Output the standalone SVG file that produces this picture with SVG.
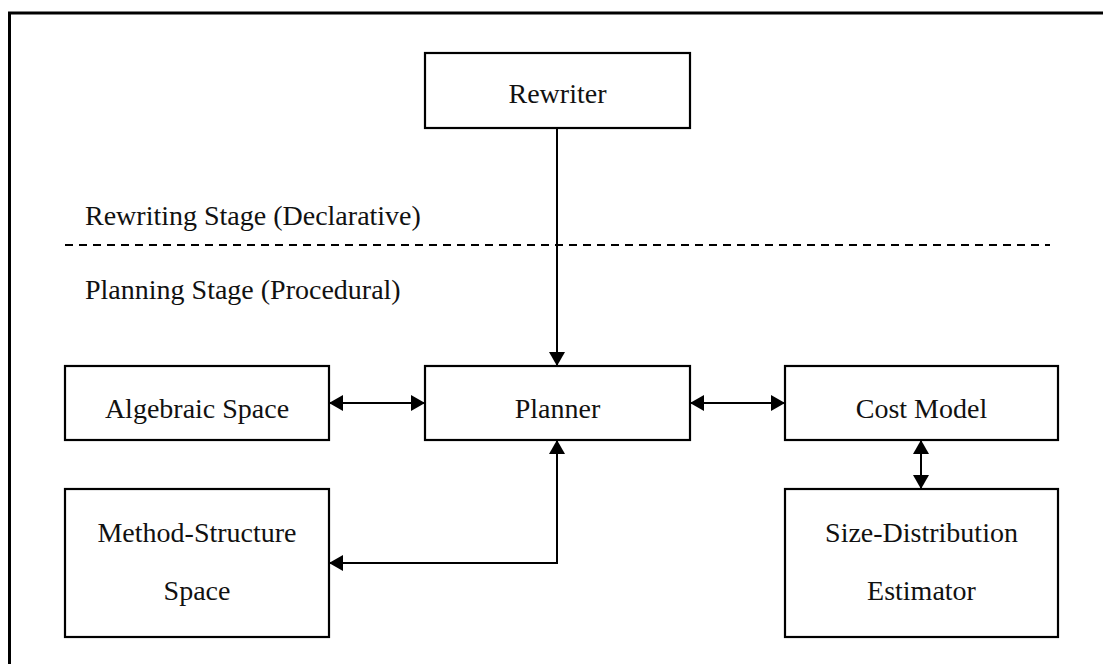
<svg xmlns="http://www.w3.org/2000/svg" width="1103" height="664" viewBox="0 0 1103 664">
  <style>
    .box { fill: #ffffff; stroke: #000000; stroke-width: 2.2; }
    .lbl { font-family: "Liberation Serif", "Times New Roman", serif; font-size: 28px; fill: #111111; }
    .mid { text-anchor: middle; }
    .link { fill: none; stroke: #000000; stroke-width: 2; }
  </style>
  <defs>
    <marker id="tip" viewBox="0 0 14 16" refX="14" refY="8" markerWidth="14" markerHeight="16" markerUnits="userSpaceOnUse" orient="auto-start-reverse">
      <path d="M0,0 L14,8 L0,16 Z" fill="#000000"/>
    </marker>
  </defs>

  <rect x="0" y="0" width="1103" height="664" fill="#ffffff"/>
  <!-- outer frame -->
  <path d="M9.5,664 V13 H1103" fill="none" stroke="#000000" stroke-width="3"/>

  <!-- stage separator -->
  <g id="stages">
    <text class="lbl" x="85" y="225">Rewriting Stage (Declarative)</text>
    <line x1="65" y1="245" x2="1050" y2="245" stroke="#000000" stroke-width="2" stroke-dasharray="8,6"/>
    <text class="lbl" x="85" y="299">Planning Stage (Procedural)</text>
  </g>

  <g id="connectors">
    <line class="link" x1="557" y1="128" x2="557" y2="366" marker-end="url(#tip)"/>
    <line class="link" x1="329" y1="403" x2="425" y2="403" marker-start="url(#tip)" marker-end="url(#tip)"/>
    <line class="link" x1="690" y1="403" x2="785" y2="403" marker-start="url(#tip)" marker-end="url(#tip)"/>
    <line class="link" x1="921" y1="440" x2="921" y2="489" marker-start="url(#tip)" marker-end="url(#tip)"/>
    <path class="link" d="M329,563 H557 V440" marker-start="url(#tip)" marker-end="url(#tip)"/>
  </g>

  <g id="rewriter">
    <rect class="box" x="425" y="53" width="265" height="75"/>
    <text class="lbl mid" x="557.5" y="103">Rewriter</text>
  </g>

  <g id="planner">
    <rect class="box" x="425" y="366" width="265" height="74"/>
    <text class="lbl mid" x="557.5" y="418">Planner</text>
  </g>

  <g id="algebraic-space">
    <rect class="box" x="65" y="366" width="264" height="74"/>
    <text class="lbl mid" x="197" y="418">Algebraic Space</text>
  </g>

  <g id="cost-model">
    <rect class="box" x="785" y="366" width="273" height="74"/>
    <text class="lbl mid" x="921.5" y="418">Cost Model</text>
  </g>

  <g id="method-structure-space">
    <rect class="box" x="65" y="489" width="264" height="148"/>
    <text class="lbl mid" x="197" y="542">Method-Structure</text>
    <text class="lbl mid" x="197" y="600">Space</text>
  </g>

  <g id="size-distribution-estimator">
    <rect class="box" x="785" y="489" width="273" height="148"/>
    <text class="lbl mid" x="921.5" y="542">Size-Distribution</text>
    <text class="lbl mid" x="921.5" y="600">Estimator</text>
  </g>
</svg>
